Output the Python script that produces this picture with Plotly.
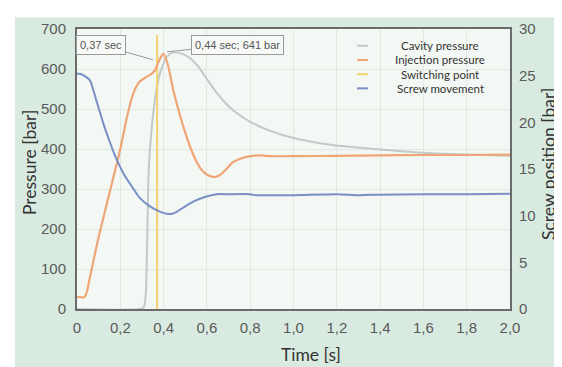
import plotly.graph_objects as go

# ---------------- data ----------------
inj_t = [0, 0.035, 0.045, 0.06, 0.1, 0.15, 0.2, 0.23, 0.25, 0.27, 0.29, 0.32, 0.345, 0.36, 0.383, 0.40, 0.42,
         0.445, 0.47, 0.5, 0.53, 0.555, 0.58, 0.61, 0.637, 0.66, 0.69, 0.72, 0.76, 0.81, 0.85, 0.9, 1.0, 1.2,
         1.4, 1.6, 1.8, 2.0]
inj_p = [30, 30, 42, 80, 180, 290, 400, 478, 522, 552, 569, 580, 588, 597, 626, 638, 610,
         547, 495, 441, 395, 365, 345, 333, 330, 335, 350, 367, 377, 383, 384, 382, 382, 383,
         384, 385, 385, 386]

cav_t = [0, 0.29, 0.31, 0.318, 0.33, 0.337, 0.36, 0.383, 0.414, 0.44, 0.48, 0.52, 0.56, 0.6, 0.65, 0.7,
         0.75, 0.8, 0.876, 0.95, 1.03, 1.18, 1.29, 1.4, 1.58, 1.8, 2.0]
cav_p = [0, 0, 6, 40, 330, 400, 523, 589, 630, 641, 639, 628, 606, 575, 537, 507,
         485, 468, 449, 435, 424, 410, 404, 399, 391, 386, 383]

scr_t = [0, 0.014, 0.04, 0.06, 0.09, 0.12, 0.15, 0.176, 0.22, 0.26, 0.29, 0.33, 0.368, 0.414, 0.44, 0.46,
         0.5, 0.537, 0.59, 0.645, 0.7, 0.8, 0.82, 0.84, 1.0, 1.2, 1.3, 1.4, 1.6, 1.8, 2.0]
scr_s = [25.2, 25.2, 24.9, 24.5, 22.3, 20.0, 18.0, 16.4, 14.3, 12.9, 11.9, 11.1, 10.6, 10.2, 10.2, 10.4,
         11.0, 11.5, 12.0, 12.3, 12.3, 12.3, 12.2, 12.2, 12.2, 12.3, 12.2, 12.25, 12.3, 12.3, 12.35]

switch_t = [0.37, 0.37]
switch_p = [0, 685]

x_ticks = [0, 0.2, 0.4, 0.6, 0.8, 1.0, 1.2, 1.4, 1.6, 1.8, 2.0]
x_ticktext = ["0", "0,2", "0,4", "0,6", "0,8", "1,0", "1,2", "1,4", "1,6", "1,8", "2,0"]
y_ticks = [0, 100, 200, 300, 400, 500, 600, 700]
y2_ticks = [0, 5, 10, 15, 20, 25, 30]

series_names = ["Cavity pressure", "Injection pressure", "Switching point", "Screw movement"]
series_colors = ["#c4c8c6", "#f0a576", "#f2d36e", "#7a8fc6"]

# ---------------- figure ----------------
fig = go.Figure()
fig.add_trace(go.Scatter(x=cav_t, y=cav_p, name=series_names[0], mode="lines",
                         line=dict(color=series_colors[0], width=2, shape="spline", smoothing=0.6)))
fig.add_trace(go.Scatter(x=switch_t, y=switch_p, name=series_names[2], mode="lines",
                         line=dict(color=series_colors[2], width=2)))
fig.add_trace(go.Scatter(x=inj_t, y=inj_p, name=series_names[1], mode="lines",
                         line=dict(color=series_colors[1], width=2.2, shape="spline", smoothing=0.6)))
fig.add_trace(go.Scatter(x=scr_t, y=scr_s, name=series_names[3], mode="lines", yaxis="y2",
                         line=dict(color=series_colors[3], width=2, shape="spline", smoothing=0.6)))

label_font = dict(family="Lato, Open Sans, sans-serif", size=17.5, color="#333333")
tick_font = dict(family="Liberation Sans, Arial, sans-serif", size=15, color="#5a5a5a")
clear = "rgba(0,0,0,0)"

# The page has an 8px body margin, so the figure sits at (8, 8) in the window.
W, H = 433, 284  # plot area size in px
L, T = 77, 25    # plot area top-left in window px


def px(x):
    return (x - L) / W


def py(y):
    return 1 - (y - T) / H


fig.update_layout(
    width=554, height=359,
    margin=dict(l=69, r=52, t=17, b=58),
    paper_bgcolor="#d9ebe1",
    plot_bgcolor="#f3f8f4",
    showlegend=False,
    xaxis=dict(range=[0, 2.0], tickvals=x_ticks, ticktext=x_ticktext, tickfont=tick_font,
               showgrid=True, gridcolor="#e0e9e2", gridwidth=1, zeroline=False,
               showline=True, linecolor="#6b6b6b", linewidth=2, mirror=True,
               ticks="outside", ticklen=4, tickcolor=clear),
    yaxis=dict(range=[0, 700], tickvals=y_ticks, tickfont=tick_font,
               showgrid=True, gridcolor="#e0e9e2", gridwidth=1, zeroline=False,
               showline=True, linecolor="#6b6b6b", linewidth=2, mirror=True,
               ticks="outside", ticklen=6, tickcolor=clear),
    yaxis2=dict(range=[0, 30], tickvals=y2_ticks, tickfont=tick_font, overlaying="y", side="right",
                showgrid=False, zeroline=False, showline=False,
                ticks="outside", ticklen=5, tickcolor=clear),
)

# axis titles
fig.add_annotation(xref="paper", yref="paper", x=px(29), y=py(161), text="Pressure [bar]",
                   textangle=-90, showarrow=False, xanchor="center", yanchor="middle", font=label_font)
fig.add_annotation(xref="paper", yref="paper", x=px(548), y=py(162), text="Screw position [bar]",
                   textangle=-90, showarrow=False, xanchor="center", yanchor="middle", font=label_font)
fig.add_annotation(xref="paper", yref="paper", x=px(311), y=py(355), text="Time [s]",
                   showarrow=False, xanchor="center", yanchor="middle", font=label_font)

# white margins at top and left of the picture
fig.add_shape(type="rect", xref="paper", yref="paper", x0=px(0), x1=px(570),
              y0=py(13), y1=py(0), fillcolor="white", line_width=0, layer="below")
fig.add_shape(type="rect", xref="paper", yref="paper", x0=px(0), x1=px(15),
              y0=py(372), y1=py(0), fillcolor="white", line_width=0, layer="below")

# callout annotations
box = dict(bgcolor="#f7f9f7", bordercolor="#9a9a9a", borderwidth=1, borderpad=3,
           font=dict(family="Liberation Sans, Arial, sans-serif", size=11, color="#555555"),
           showarrow=True, arrowhead=0, arrowcolor="#9a9a9a", arrowwidth=1)
fig.add_annotation(x=0.351, y=623, text="0,37 sec", ax=-52, ay=-15, **box)
fig.add_annotation(x=0.416, y=643, text="0,44 sec; 641 bar", ax=70, ay=-7, **box)

# legend (drawn manually for compact spacing)
leg_font = dict(family="Lato, Open Sans, sans-serif", size=11.5, color="#333333")
for i, (name, col) in enumerate(zip(series_names, series_colors)):
    ypx = 42 + i * 14.4
    fig.add_shape(type="line", xref="paper", yref="paper",
                  x0=px(357), x1=px(368), y0=py(ypx), y1=py(ypx),
                  line=dict(color=col, width=2))
    fig.add_annotation(xref="paper", yref="paper", x=px(440), y=py(ypx), text=name,
                       showarrow=False, xanchor="center", yanchor="middle", font=leg_font)

fig.write_html("out.html")
